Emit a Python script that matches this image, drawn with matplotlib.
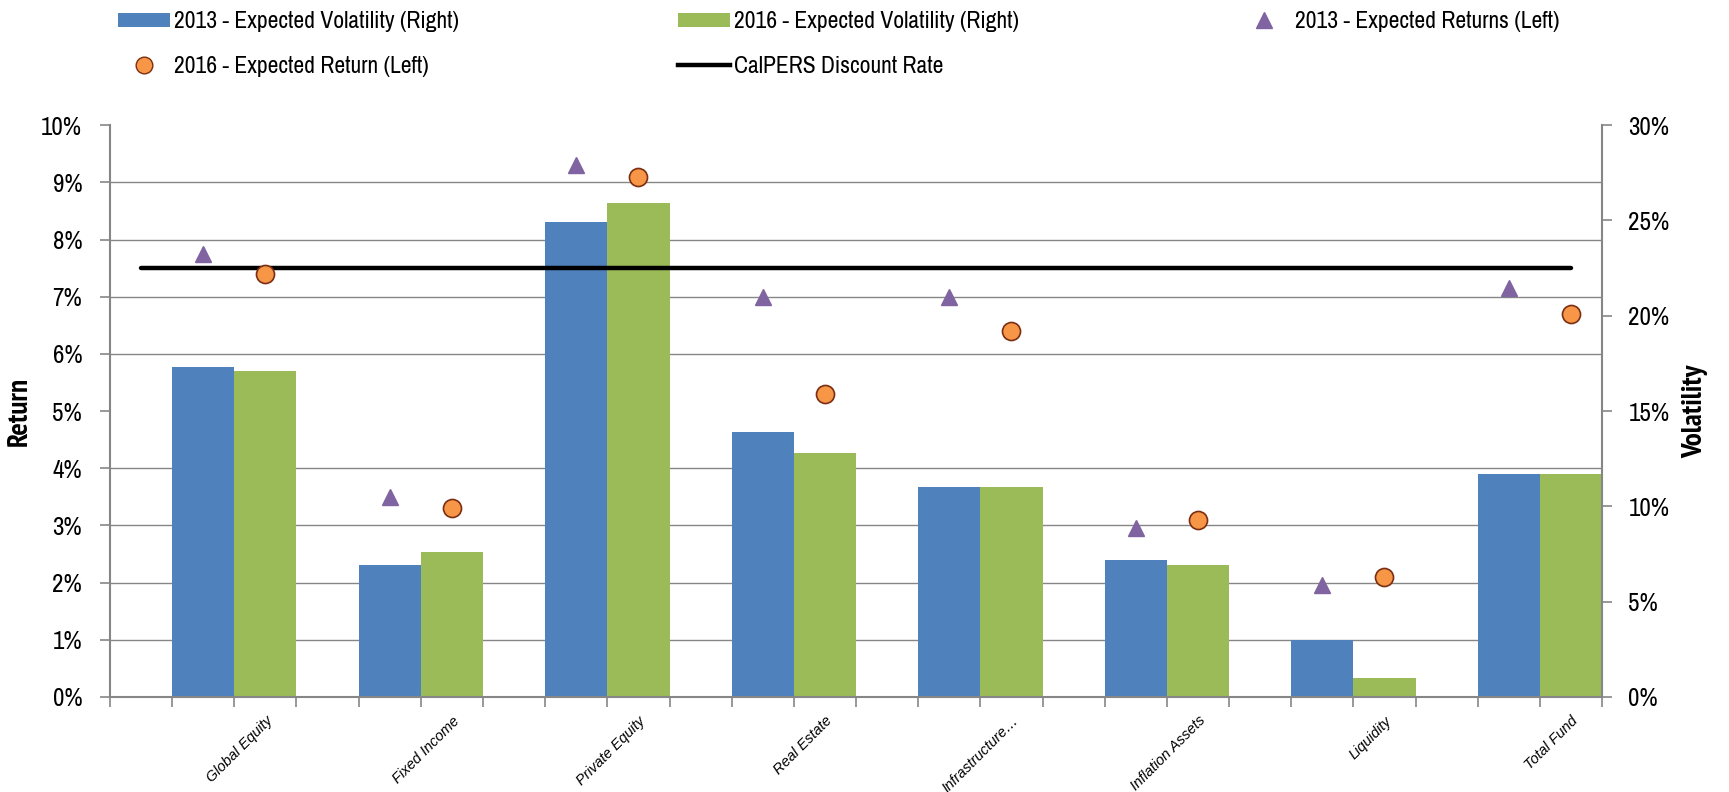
import matplotlib
matplotlib.use("Agg")
import numpy as np
import matplotlib.pyplot as plt
import matplotlib.ticker as mticker
from matplotlib.lines import Line2D
from matplotlib.patches import Patch

# values
categories = ["Global Equity", "Fixed Income", "Private Equity", "Real Estate",
              "Infrastructure…", "Inflation Assets", "Liquidity", "Total Fund"]
vol_2013 = [17.3, 6.9, 24.9, 13.9, 11.0, 7.2, 3.0, 11.7]
vol_2016 = [17.1, 7.6, 25.9, 12.8, 11.0, 6.9, 1.0, 11.7]
ret_2013 = [7.75, 3.5, 9.3, 7.0, 7.0, 2.95, 1.95, 7.15]
ret_2016 = [7.4, 3.3, 9.1, 5.3, 6.4, 3.1, 2.1, 6.7]
discount_rate = 7.5

BLUE = "#4F81BD"
GREEN = "#9BBB59"
PURPLE = "#8064A2"
ORANGE = "#F79646"
GRAY = "#868686"
NARROW = ["Liberation Sans Narrow", "Arial Narrow", "Archivo Narrow",
          "PT Sans Narrow", "Roboto Condensed", "Liberation Sans", "DejaVu Sans"]
NARROW_BOLD = ["Liberation Sans Narrow", "Arial Narrow", "PT Sans Narrow",
               "Fira Sans Condensed", "Roboto Condensed", "Liberation Sans", "DejaVu Sans"]
REGULAR = ["Liberation Sans", "DejaVu Sans"]

fig = plt.figure(figsize=(17.29, 7.92), dpi=100)
ax_ret = fig.add_axes([0.0636, 0.12, 0.863, 0.722])
ax_vol = ax_ret.twinx()
ax_ret.set_zorder(ax_vol.get_zorder() + 1)
ax_ret.patch.set_visible(False)

n = len(categories)
pos = np.arange(n) * 3

# bars on volatility axis (right)
ax_vol.bar(pos + 1, vol_2013, width=1.0, align="edge", color=BLUE, zorder=2)
ax_vol.bar(pos + 2, vol_2016, width=1.0, align="edge", color=GREEN, zorder=2)

# gridlines, one per left-axis percent (3% on right scale)
ax_vol.yaxis.set_minor_locator(mticker.MultipleLocator(3))
ax_vol.grid(True, which="minor", axis="y", color=GRAY, linewidth=1.0, zorder=0)
ax_vol.tick_params(axis="y", which="minor", length=0)

# markers and discount line on return axis (left)
ax_ret.plot([0.5, 3 * n - 0.5], [discount_rate, discount_rate], color="black",
            linewidth=3.2, solid_capstyle="round", zorder=3)
ax_ret.plot(pos + 1.5, ret_2013, linestyle="none", marker="^", markersize=11,
            color=PURPLE, markeredgecolor=PURPLE, zorder=4)
ax_ret.plot(pos + 2.5, ret_2016, linestyle="none", marker="o", markersize=13,
            markerfacecolor=ORANGE, markeredgecolor="#7B2E12",
            markeredgewidth=1.2, zorder=4)

ax_ret.set_xlim(0, 3 * n)
ax_ret.set_ylim(0, 10)
ax_vol.set_ylim(0, 30)

pct = mticker.FuncFormatter(lambda v, p: "%d%%" % v)
ax_ret.yaxis.set_major_locator(mticker.MultipleLocator(1))
ax_ret.yaxis.set_major_formatter(pct)
ax_vol.yaxis.set_major_locator(mticker.MultipleLocator(5))
ax_vol.yaxis.set_major_formatter(pct)

ax_ret.xaxis.set_major_locator(mticker.MultipleLocator(1))
ax_ret.xaxis.set_major_formatter(mticker.NullFormatter())
ax_ret.set_xticks(pos + 2.5, minor=True)
ax_ret.set_xticklabels(categories, minor=True, rotation=45, ha="right",
                       va="top", rotation_mode="anchor",
                       fontsize=10.5, fontstyle="italic", family=REGULAR)
ax_ret.tick_params(axis="x", which="minor", length=0, pad=12)
ax_ret.tick_params(axis="x", which="major", length=7, color=GRAY, width=1.2)

for a in (ax_ret, ax_vol):
    for s in a.spines.values():
        s.set_visible(False)
ax_ret.spines["left"].set_visible(True)
ax_ret.spines["bottom"].set_visible(True)
ax_vol.spines["right"].set_visible(True)
for s in (ax_ret.spines["left"], ax_ret.spines["bottom"], ax_vol.spines["right"]):
    s.set_color(GRAY)
    s.set_linewidth(1.5)

ax_ret.tick_params(axis="y", length=7, color=GRAY, width=1.2, labelsize=18, pad=13)
ax_vol.tick_params(axis="y", which="major", length=7, color=GRAY, width=1.2,
                   labelsize=18, pad=12)
for lab in ax_ret.get_yticklabels() + ax_vol.get_yticklabels():
    lab.set_family(NARROW)

ax_ret.set_ylabel("Return", fontsize=21, fontweight="bold", family=NARROW_BOLD)
ax_vol.set_ylabel("Volatility", fontsize=21, fontweight="bold", family=NARROW_BOLD)
ax_ret.yaxis.set_label_coords(-0.0516, 0.5)
ax_vol.yaxis.set_label_coords(1.054, 0.5)

# legend: three columns placed where the reference has them
legend_cols = [
    (0.068, [Patch(facecolor=BLUE, label="2013 - Expected Volatility (Right)"),
             Line2D([], [], linestyle="none", marker="o", markersize=12,
                    markerfacecolor=ORANGE, markeredgecolor="#7B2E12",
                    label="2016 - Expected Return (Left)")]),
    (0.392, [Patch(facecolor=GREEN, label="2016 - Expected Volatility (Right)"),
             Line2D([], [], color="black", linewidth=3.2,
                    label="CalPERS Discount Rate")]),
    (0.716, [Line2D([], [], linestyle="none", marker="^", markersize=11,
                    color=PURPLE, label="2013 - Expected Returns (Left)")]),
]
for x0, hs in legend_cols:
    fig.legend(handles=hs, loc="upper left", bbox_to_anchor=(x0, 0.986),
               frameon=False, prop={"family": NARROW, "size": 17},
               borderpad=0, borderaxespad=0,
               handlelength=2.2, handleheight=0.55, handletextpad=0.2,
               labelspacing=1.0)

fig.savefig("out.png", dpi=100)
